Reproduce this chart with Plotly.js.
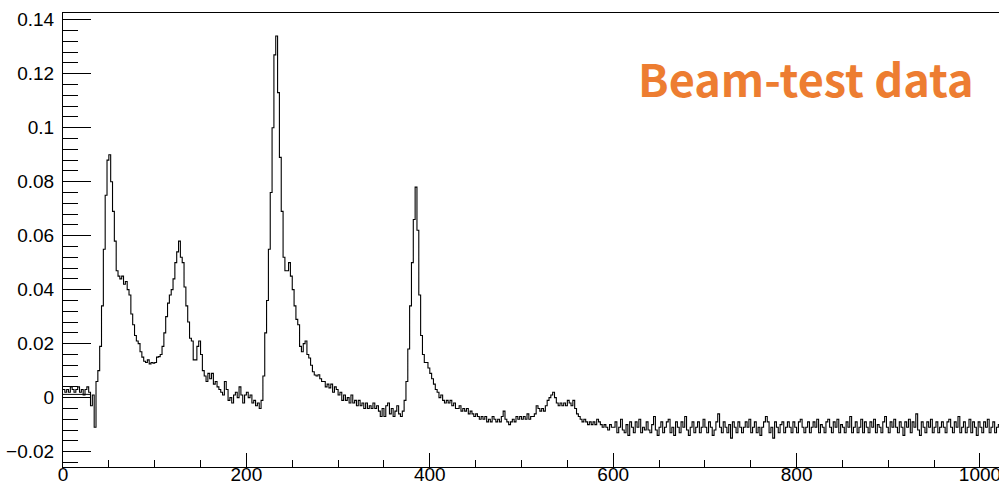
<!DOCTYPE html>
<html>
<head>
<meta charset="utf-8">
<script src="https://cdn.plot.ly/plotly-3.0.1.min.js"></script>
<style>
  html, body { margin: 0; padding: 0; background: #fff; overflow: hidden; }
  #chart { width: 1005px; height: 485px; }
</style>
</head>
<body>
<div id="chart"></div>
<script>
// ---- data ----
const binWidth = 2;               // sample units per bin
const signalValues = [
  // 0 - 100
  0.003, 0.002, 0.003, 0.002, 0.004, 0.003, 0.002, 0.003, 0.004, 0.002,
  0.003, 0.001, 0.003, 0.004, 0.002, -0.003, 0.001, -0.011, 0.006, 0.010,
  0.019, 0.034, 0.055, 0.075, 0.088, 0.090, 0.080, 0.069, 0.058, 0.047,
  0.045, 0.044, 0.045, 0.042, 0.043, 0.040, 0.038, 0.031, 0.027, 0.023,
  0.021, 0.020, 0.017, 0.015, 0.0135, 0.013, 0.014, 0.0125, 0.013, 0.0128,
  // 100 - 200
  0.013, 0.015, 0.0152, 0.016, 0.019, 0.024, 0.030, 0.035, 0.038, 0.040,
  0.044, 0.050, 0.054, 0.058, 0.052, 0.050, 0.041, 0.034, 0.028, 0.022,
  0.021, 0.014, 0.014, 0.019, 0.021, 0.016, 0.010, 0.008, 0.006, 0.009,
  0.007, 0.009, 0.005, 0.006, 0.004, 0.003, 0.002, 0.001, 0.006, 0.003,
  -0.001, 0.000, -0.002, 0.001, 0.002, 0.000, 0.004, 0.001, -0.002, 0.001,
  // 200 - 300
  0.002, 0.000, 0.001, -0.002, -0.001, -0.003, -0.002, -0.004, -0.001, 0.008,
  0.024, 0.036, 0.055, 0.076, 0.100, 0.127, 0.134, 0.113, 0.089, 0.069,
  0.052, 0.047, 0.047, 0.050, 0.045, 0.040, 0.034, 0.029, 0.027, 0.019,
  0.017, 0.020, 0.021, 0.016, 0.0147, 0.012, 0.0096, 0.0084, 0.008, 0.0085,
  0.007, 0.006, 0.006, 0.004, 0.005, 0.0036, 0.005, 0.002, 0.004, 0.003,
  // 300 - 400
  0.001, 0.002, -0.001, 0.001, -0.001, 0.000, -0.002, 0.001, -0.002, -0.001,
  -0.003, -0.001, -0.003, -0.002, -0.004, -0.002, -0.004, -0.003, -0.004, -0.002,
  -0.004, -0.003, -0.005, -0.007, -0.004, -0.007, -0.003, -0.002, -0.006, -0.004,
  -0.007, -0.005, -0.003, -0.006, -0.007, -0.005, -0.001, 0.006, 0.018, 0.034,
  0.050, 0.066, 0.078, 0.062, 0.038, 0.023, 0.016, 0.013, 0.013, 0.011,
  // 400 - 500
  0.009, 0.007, 0.005, 0.003, 0.002, 0.000, 0.001, -0.001, -0.002, -0.001,
  -0.002, -0.001, -0.003, -0.002, -0.004, -0.004, -0.003, -0.005, -0.004, -0.005,
  -0.004, -0.006, -0.005, -0.006, -0.007, -0.006, -0.007, -0.008, -0.007, -0.008,
  -0.007, -0.009, -0.008, -0.009, -0.007, -0.008, -0.009, -0.008, -0.009, -0.007,
  -0.005, -0.008, -0.009, -0.010, -0.009, -0.008, -0.009, -0.007, -0.008, -0.007,
  // 500 - 600
  -0.008, -0.007, -0.008, -0.006, -0.008, -0.007, -0.007, -0.006, -0.003, -0.004,
  -0.005, -0.004, -0.005, -0.003, -0.001, 0.000, 0.001, 0.002, 0.000, -0.002,
  -0.003, -0.002, -0.003, -0.002, -0.003, -0.001, -0.002, -0.003, -0.001, -0.004,
  -0.006, -0.007, -0.008, -0.009, -0.008, -0.009, -0.010, -0.009, -0.010, -0.009,
  -0.010, -0.008, -0.009, -0.010, -0.011, -0.010, -0.011, -0.012, -0.010, -0.011,
  // 600 - 1024
  -0.011, -0.009, -0.013, -0.011, -0.008, -0.012, -0.013, -0.010, -0.014, -0.009,
  -0.011, -0.013, -0.009, -0.011, -0.008, -0.013, -0.011, -0.012, -0.009, -0.012,
  -0.013, -0.010, -0.007, -0.012, -0.014, -0.011, -0.009, -0.013, -0.011, -0.009,
  -0.008, -0.013, -0.011, -0.014, -0.009, -0.011, -0.013, -0.009, -0.011, -0.007,
  -0.012, -0.014, -0.011, -0.009, -0.013, -0.011, -0.009, -0.013, -0.011, -0.008,
  -0.011, -0.013, -0.009, -0.011, -0.014, -0.012, -0.009, -0.006, -0.011, -0.013,
  -0.009, -0.011, -0.013, -0.010, -0.015, -0.009, -0.011, -0.013, -0.009, -0.011,
  -0.013, -0.011, -0.009, -0.011, -0.008, -0.013, -0.011, -0.009, -0.013, -0.011,
  -0.014, -0.011, -0.009, -0.007, -0.009, -0.013, -0.011, -0.015, -0.009, -0.011,
  -0.013, -0.010, -0.009, -0.013, -0.011, -0.009, -0.011, -0.013, -0.009, -0.011,
  -0.013, -0.009, -0.008, -0.011, -0.013, -0.011, -0.009, -0.013, -0.011, -0.009,
  -0.011, -0.008, -0.013, -0.010, -0.011, -0.013, -0.009, -0.008, -0.011, -0.013,
  -0.009, -0.011, -0.008, -0.013, -0.010, -0.011, -0.013, -0.009, -0.011, -0.007,
  -0.013, -0.011, -0.009, -0.013, -0.011, -0.008, -0.013, -0.009, -0.011, -0.013,
  -0.009, -0.011, -0.008, -0.013, -0.010, -0.011, -0.013, -0.009, -0.007, -0.011,
  -0.013, -0.009, -0.011, -0.008, -0.011, -0.013, -0.009, -0.011, -0.014, -0.009,
  -0.011, -0.008, -0.013, -0.009, -0.011, -0.006, -0.012, -0.014, -0.009, -0.011,
  -0.013, -0.009, -0.011, -0.008, -0.013, -0.011, -0.009, -0.013, -0.011, -0.009,
  -0.011, -0.013, -0.009, -0.008, -0.011, -0.013, -0.009, -0.011, -0.007, -0.013,
  -0.011, -0.009, -0.013, -0.011, -0.008, -0.013, -0.009, -0.011, -0.014, -0.009,
  -0.011, -0.013, -0.009, -0.011, -0.008, -0.013, -0.011, -0.009, -0.013, -0.011,
  -0.010, -0.013
];
// flat pedestal segment seen under the first samples
const pedestalX = [0, 30];
const pedestalY = [0.0012, 0.0012];

const xTickVals = [0, 200, 400, 600, 800, 1000];
const xTickText = ["0", "200", "400", "600", "800", "1000"];
const yTickVals = [-0.02, 0, 0.02, 0.04, 0.06, 0.08, 0.1, 0.12, 0.14];
const yTickText = ["\u22120.02", "0", "0.02", "0.04", "0.06", "0.08", "0.1", "0.12", "0.14"];
const labelText = "Beam-test data";

// ---- build step histogram ----
const hx = [], hy = [];
signalValues.forEach((v, i) => { hx.push(i * binWidth); hy.push(v); });
hx.push(signalValues.length * binWidth);
hy.push(signalValues[signalValues.length - 1]);

const traces = [
  { x: hx, y: hy, type: 'scatter', mode: 'lines',
    line: { shape: 'hv', color: '#000', width: 1.1 }, hoverinfo: 'skip' },
  { x: pedestalX, y: pedestalY, type: 'scatter', mode: 'lines',
    line: { color: '#000', width: 1 }, hoverinfo: 'skip' }
];

const tickFont = { family: 'Liberation Sans, Arial, sans-serif', size: 19, color: '#000' };

const layout = {
  width: 1005, height: 485,
  margin: { l: 63, r: 3, t: 13, b: 18, pad: 0 },
  paper_bgcolor: '#fff', plot_bgcolor: '#fff',
  showlegend: false,
  xaxis: {
    range: [0, 1024], showgrid: false, zeroline: false,
    showline: true, linecolor: '#000', linewidth: 1, mirror: true,
    tickmode: 'array', tickvals: xTickVals, ticktext: xTickText,
    ticks: 'inside', ticklen: 14, tickwidth: 1, tickcolor: '#000',
    minor: { tickmode: 'linear', tick0: 0, dtick: 50, ticks: 'inside', ticklen: 7, tickwidth: 1, tickcolor: '#000' },
    tickfont: tickFont, ticklabelstandoff: -10
  },
  yaxis: {
    range: [-0.0257, 0.1425], showgrid: false, zeroline: false,
    showline: true, linecolor: '#000', linewidth: 1, mirror: true,
    tickmode: 'array', tickvals: yTickVals, ticktext: yTickText,
    ticks: 'inside', ticklen: 28, tickwidth: 1, tickcolor: '#000',
    minor: { tickmode: 'linear', tick0: 0, dtick: 0.004, ticks: 'inside', ticklen: 15, tickwidth: 1, tickcolor: '#000' },
    tickfont: tickFont, ticklabelstandoff: 4
  },
  annotations: [{
    text: labelText, xref: 'paper', yref: 'paper',
    x: 0.791, y: 0.857, xanchor: 'center', yanchor: 'middle', showarrow: false,
    font: { family: 'Noto Sans CJK SC, Noto Sans, sans-serif', size: 45, color: '#ED7D31', weight: 'bold' }
  }]
};

Plotly.newPlot('chart', traces, layout, { displayModeBar: false, staticPlot: true });
</script>
</body>
</html>
